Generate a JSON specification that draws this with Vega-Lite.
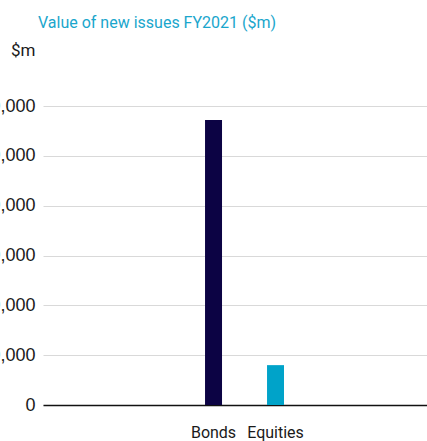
{
  "$schema": "https://vega.github.io/schema/vega-lite/v6.json",
  "autosize": {"type": "none"},
  "width": 384,
  "height": 299,
  "padding": {"left": 43, "top": 106, "right": 0, "bottom": 36},
  "background": "white",
  "title": {
    "text": "Value of new issues FY2021 ($m)",
    "anchor": "start",
    "frame": "group",
    "dx": -5,
    "offset": 10,
    "font": "Roboto",
    "fontSize": 16,
    "fontWeight": "normal",
    "color": "#1aa6cc"
  },
  "data": {
    "values": [
      {"type": "Bonds", "value": 57200},
      {"type": "Equities", "value": 8000}
    ]
  },
  "mark": {"type": "bar"},
  "encoding": {
    "x": {
      "field": "type",
      "type": "nominal",
      "scale": {
        "domain": [" ", "  ", "Bonds", "Equities", "   ", "    "],
        "paddingInner": 0.726,
        "paddingOuter": 0.46,
        "align": 0.667
      },
      "axis": {
        "title": null,
        "labelAngle": 0,
        "ticks": false,
        "domain": true,
        "domainColor": "#111111",
        "domainWidth": 1.5,
        "labelPadding": 19,
        "labelFont": "Roboto",
        "labelFontSize": 16,
        "labelColor": "#1a1a1a"
      }
    },
    "y": {
      "field": "value",
      "type": "quantitative",
      "scale": {"domain": [0, 60000], "nice": false},
      "axis": {
        "title": "$m",
        "titleAngle": 0,
        "titleX": -8,
        "titleY": -56,
        "titleAlign": "right",
        "titleBaseline": "middle",
        "titleFont": "Roboto",
        "titleFontSize": 17,
        "titleFontWeight": "normal",
        "titleColor": "#1a1a1a",
        "values": [0, 10000, 20000, 30000, 40000, 50000, 60000],
        "format": ",d",
        "ticks": false,
        "domain": false,
        "grid": true,
        "gridColor": "#d9d9d9",
        "gridWidth": 1,
        "labelPadding": 8,
        "labelFont": "Liberation Sans",
        "labelFontSize": 18,
        "labelColor": "#1a1a1a"
      }
    },
    "color": {
      "field": "type",
      "type": "nominal",
      "scale": {"domain": ["Bonds", "Equities"], "range": ["#0c0344", "#00a3c9"]},
      "legend": null
    }
  },
  "config": {"view": {"stroke": null}}
}
